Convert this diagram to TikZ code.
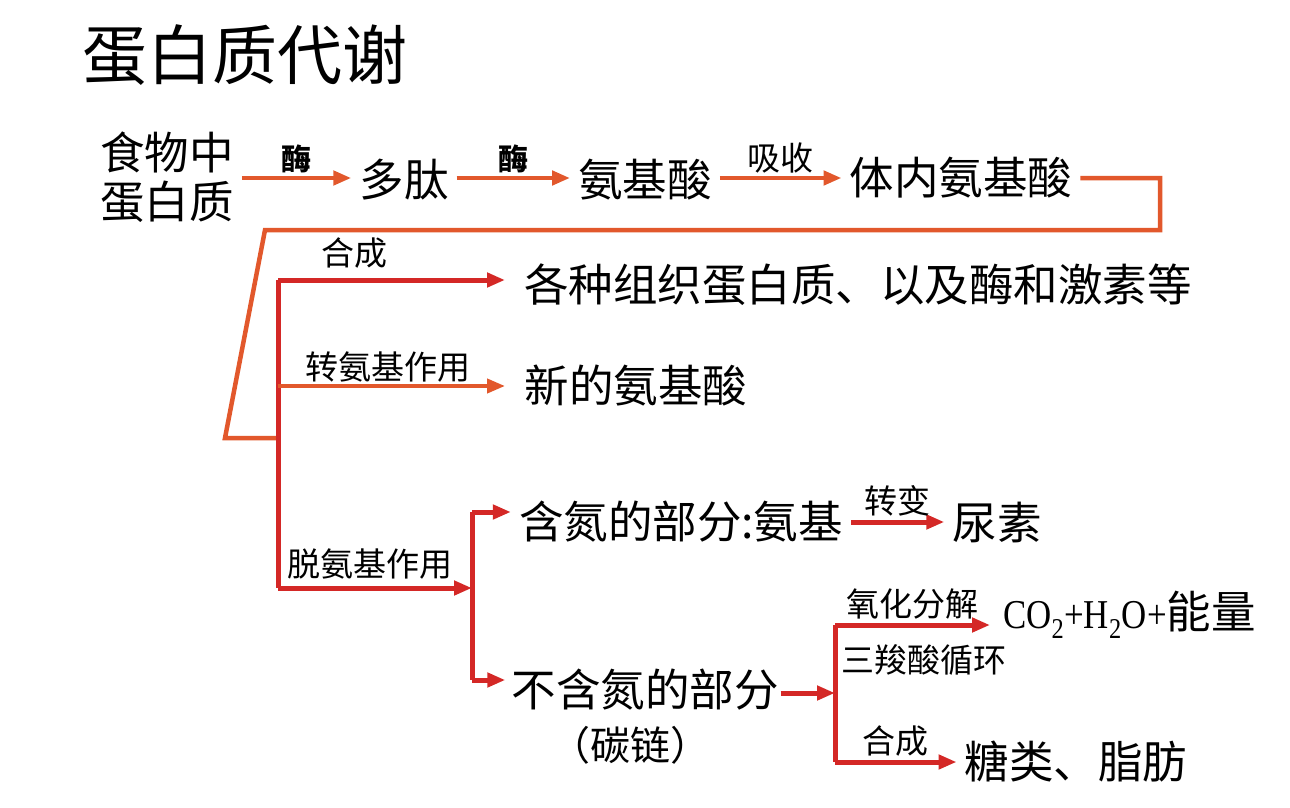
\documentclass[tikz,border=0pt]{standalone}
\usepackage{fontspec}
\setmainfont{Noto Sans CJK SC}
\newfontfamily\serf[FakeStretch=0.85]{Liberation Serif}
\usetikzlibrary{arrows.meta}
\definecolor{olin}{RGB}{226,88,44}
\definecolor{rlin}{RGB}{212,40,38}
\begin{document}
\begin{tikzpicture}[x=1pt,y=-1pt,
  txt/.style={inner xsep=8pt, inner ysep=0pt, font=\fontsize{44.5}{49}\selectfont},
  lbl/.style={inner sep=3pt, font=\fontsize{33}{36}\selectfont},
  blbl/.style={inner sep=3pt, font=\fontsize{30}{34}\selectfont\bfseries},
  tip/.style={-{Triangle[length=18pt,width=14pt]}},
  oarr/.style={draw=olin, line width=4.5pt, tip},
  rarr/.style={draw=rlin, line width=5pt, tip},
  oln/.style={draw=olin, line width=4.5pt},
  rln/.style={draw=rlin, line width=5pt}]
\useasboundingbox (0,0) rectangle (1290,808);
\fill[white] (0,0) rectangle (1290,808);
% title
\node[inner sep=0pt, font=\fontsize{65}{70}\selectfont] (title) at (245,55) {蛋白质代谢};
% top row
\node[txt, align=center] (food) at (167,177) {食物中\\蛋白质};
\node[txt] (pep) at (404,180) {多肽};
\node[txt] (aa) at (645,180) {氨基酸};
\node[txt] (body) at (961,178) {体内氨基酸};
\draw[oarr] (food.east |- 0,178) -- node[blbl, above] {酶} (pep.west |- 0,178);
\draw[oarr] (pep.east |- 0,178) -- node[blbl, above] {酶} (aa.west |- 0,178);
\draw[oarr] (aa.east |- 0,178) -- node[lbl, above] {吸收} (body.west |- 0,178);
% feedback line
\coordinate (J) at (278,438);
\draw[oln] (body.east) -- (1160,178) -- (1160,230) -- (265,230) -- (225,438) -- (J);
% targets
\node[txt] (comp) at (858,285) {各种组织蛋白质、以及酶和激素等};
\node[txt] (newaa) at (636,386) {新的氨基酸};
\coordinate (T1) at (278,280);
\coordinate (T2) at (278,386);
\coordinate (T3) at (278,588);
\coordinate (V1) at (472,512);
\coordinate (V2) at (472,680);
\draw[rln] (T1) -- (T3);
\draw[rarr] (T1) -- (505,280);
\node[lbl] (l1) at (354,253) {合成};
\draw[oarr, line width=4pt] (T2) -- (505,386);
\node[lbl] (l2) at (388,367) {转氨基作用};
\draw[rarr] (T3) -- (V1 |- T3);
\node[lbl] (l3) at (370,564) {脱氨基作用};
% second split
\node[txt] (nit) at (681,522) {含氮的部分:氨基};
\node[txt] (urea) at (997,522) {尿素};
\node[txt, inner xsep=2pt] (non) at (645,690) {不含氮的部分};
\node[inner sep=0pt, font=\fontsize{40}{44}\selectfont] (carb) at (630,745) {（碳链）};
\draw[rln] (V1) -- (V2);
\draw[rarr] (V1) -- (nit.west |- V1);
\draw[rarr] (V2) -- ([xshift=-4pt]non.west |- V2);
\draw[rarr] (nit.east) -- node[lbl, above] {转变} (urea.west);
% third split
\coordinate (W1) at (835,625);
\coordinate (W2) at (835,762);
\node[txt, anchor=west, inner xsep=0pt] (co2) at (1003,615) {{\serf\fontsize{41}{45}\selectfont CO\textsubscript{2}+H\textsubscript{2}O+}能量};
\node[txt] (sug) at (1076,762) {糖类、脂肪};
\draw[rarr] (non.east |- 0,693) -- (W1 |- 0,693);
\draw[rln] (W1) -- (W2);
\draw[rarr] (W1) -- node[lbl, above] {氧化分解} (990,625);
\node[lbl, anchor=west, inner sep=0pt] (l4) at (841,660) {三羧酸循环};
\draw[rarr] (W2) -- node[lbl, above] {合成} (sug.west);
\end{tikzpicture}
\end{document}
